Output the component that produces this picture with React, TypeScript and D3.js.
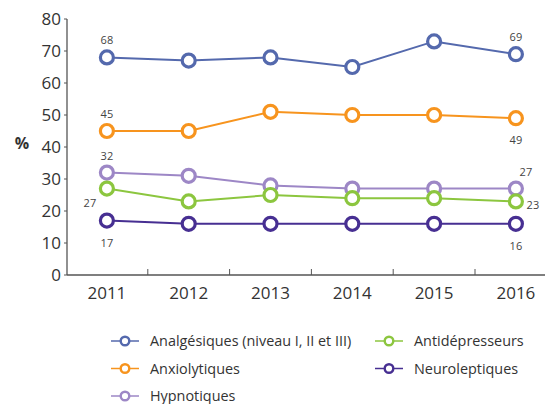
import React, { useEffect, useRef } from 'react'
import * as d3 from 'd3'

const years = ['2011', '2012', '2013', '2014', '2015', '2016']
const yTicks = [0, 10, 20, 30, 40, 50, 60, 70, 80]

const seriesNames = [
  'Analgésiques (niveau I, II et III)',
  'Anxiolytiques',
  'Hypnotiques',
  'Antidépresseurs',
  'Neuroleptiques',
]
const seriesColors = ['#5469ad', '#f7941e', '#9d87c6', '#8cc63f', '#472f92']

const analgesiques = [68, 67, 68, 65, 73, 69]
const anxiolytiques = [45, 45, 51, 50, 50, 49]
const hypnotiques = [32, 31, 28, 27, 27, 27]
const antidepresseurs = [27, 23, 25, 24, 24, 23]
const neuroleptiques = [17, 16, 16, 16, 16, 16]

const seriesValues = [analgesiques, anxiolytiques, hypnotiques, antidepresseurs, neuroleptiques]

// label placement for first/last values: [dx, dy] per series
const firstLabelOffset = [[0, -17], [0, -17], [0, -17], [-17, 14], [0, 22]]
const lastLabelOffset = [[0, -17], [0, 22], [10, -17], [17, 4], [0, 22]]

// legend layout: column and row for each series
const legendCol = [0, 0, 0, 1, 1]
const legendRow = [0, 1, 2, 0, 1]

export default function App() {
  const ref = useRef<SVGSVGElement>(null)

  useEffect(() => {
    const svg = d3.select(ref.current)
    svg.selectAll('*').remove()

    const font = '"Open Sans", Lato, sans-serif'
    const x0 = 67
    const x = d3.scaleBand().domain(years).range([x0 - 1, x0 - 1 + 6 * 81.8])
    const y = d3.scaleLinear().domain([0, 80]).range([275, 19])
    const cx = (d: string) => (x(d) as number) + x.bandwidth() / 2

    const g = svg.append('g')

    // y axis
    g.append('line')
      .attr('x1', x0).attr('x2', x0).attr('y1', y(80)).attr('y2', y(0))
      .attr('stroke', '#555').attr('stroke-width', 1.3)
    g.selectAll('.ytick')
      .data(yTicks)
      .enter()
      .append('line')
      .attr('x1', x0 - 3).attr('x2', x0)
      .attr('y1', (d) => y(d)).attr('y2', (d) => y(d))
      .attr('stroke', '#555')
    g.selectAll('.ylab')
      .data(yTicks)
      .enter()
      .append('text')
      .attr('x', x0 - 6)
      .attr('y', (d) => y(d))
      .attr('dy', '0.36em')
      .attr('text-anchor', 'end')
      .attr('font-family', font)
      .attr('font-size', 17)
      .attr('fill', '#333')
      .text((d) => d)

    g.append('text')
      .attr('x', 22).attr('y', 143)
      .attr('text-anchor', 'middle')
      .attr('dy', '0.36em')
      .attr('font-family', font)
      .attr('font-weight', 'bold')
      .attr('font-size', 16)
      .attr('fill', '#333')
      .text('%')

    // x axis
    g.append('line')
      .attr('x1', x0).attr('x2', 545).attr('y1', y(0)).attr('y2', y(0))
      .attr('stroke', '#555').attr('stroke-width', 1.3)
    g.selectAll('.xtick')
      .data(years.slice(1))
      .enter()
      .append('line')
      .attr('x1', (d) => x(d) as number).attr('x2', (d) => x(d) as number)
      .attr('y1', y(0) - 6).attr('y2', y(0))
      .attr('stroke', '#555')
    g.selectAll('.xlab')
      .data(years)
      .enter()
      .append('text')
      .attr('x', (d) => cx(d))
      .attr('y', y(0) + 24)
      .attr('text-anchor', 'middle')
      .attr('font-family', font)
      .attr('font-size', 17)
      .attr('fill', '#333')
      .text((d) => d)

    const line = d3.line<number>()
      .x((_, i) => cx(years[i]))
      .y((d) => y(d))

    seriesValues.forEach((vals, s) => {
      const color = seriesColors[s]
      g.append('path')
        .datum(vals)
        .attr('d', line)
        .attr('fill', 'none')
        .attr('stroke', color)
        .attr('stroke-width', 2)
      g.selectAll(`.pt${s}`)
        .data(vals)
        .enter()
        .append('circle')
        .attr('cx', (_, i) => cx(years[i]))
        .attr('cy', (d) => y(d))
        .attr('r', 6.5)
        .attr('fill', '#fff')
        .attr('stroke', color)
        .attr('stroke-width', 3.2)

      const last = vals.length - 1
      const labels = [
        { i: 0, v: vals[0], off: firstLabelOffset[s] },
        { i: last, v: vals[last], off: lastLabelOffset[s] },
      ]
      g.selectAll(`.lab${s}`)
        .data(labels)
        .enter()
        .append('text')
        .attr('x', (d) => cx(years[d.i]) + d.off[0])
        .attr('y', (d) => y(d.v) + d.off[1])
        .attr('dy', '0.36em')
        .attr('text-anchor', 'middle')
        .attr('font-family', font)
        .attr('font-size', 11)
        .attr('fill', '#444')
        .text((d) => d.v)
    })

    // legend
    const legend = g.selectAll('.leg')
      .data(seriesNames)
      .enter()
      .append('g')
      .attr('transform', (_, i) => `translate(${111 + legendCol[i] * 264},${341 + legendRow[i] * 27.5})`)
    legend.append('line')
      .attr('x1', 0).attr('x2', 28)
      .attr('stroke', (_, i) => seriesColors[i])
      .attr('stroke-width', 1.5)
    legend.append('circle')
      .attr('cx', 14).attr('r', 4.3)
      .attr('fill', '#fff')
      .attr('stroke', (_, i) => seriesColors[i])
      .attr('stroke-width', 2.4)
    legend.append('text')
      .attr('x', 39)
      .attr('dy', '0.36em')
      .attr('font-family', font)
      .attr('font-size', 14.4)
      .attr('fill', '#333')
      .text((d) => d)
  }, [])

  return (
    <svg ref={ref} width={545} height={404} style={{ position: 'absolute', left: 0, top: 0 }} />
  )
}
